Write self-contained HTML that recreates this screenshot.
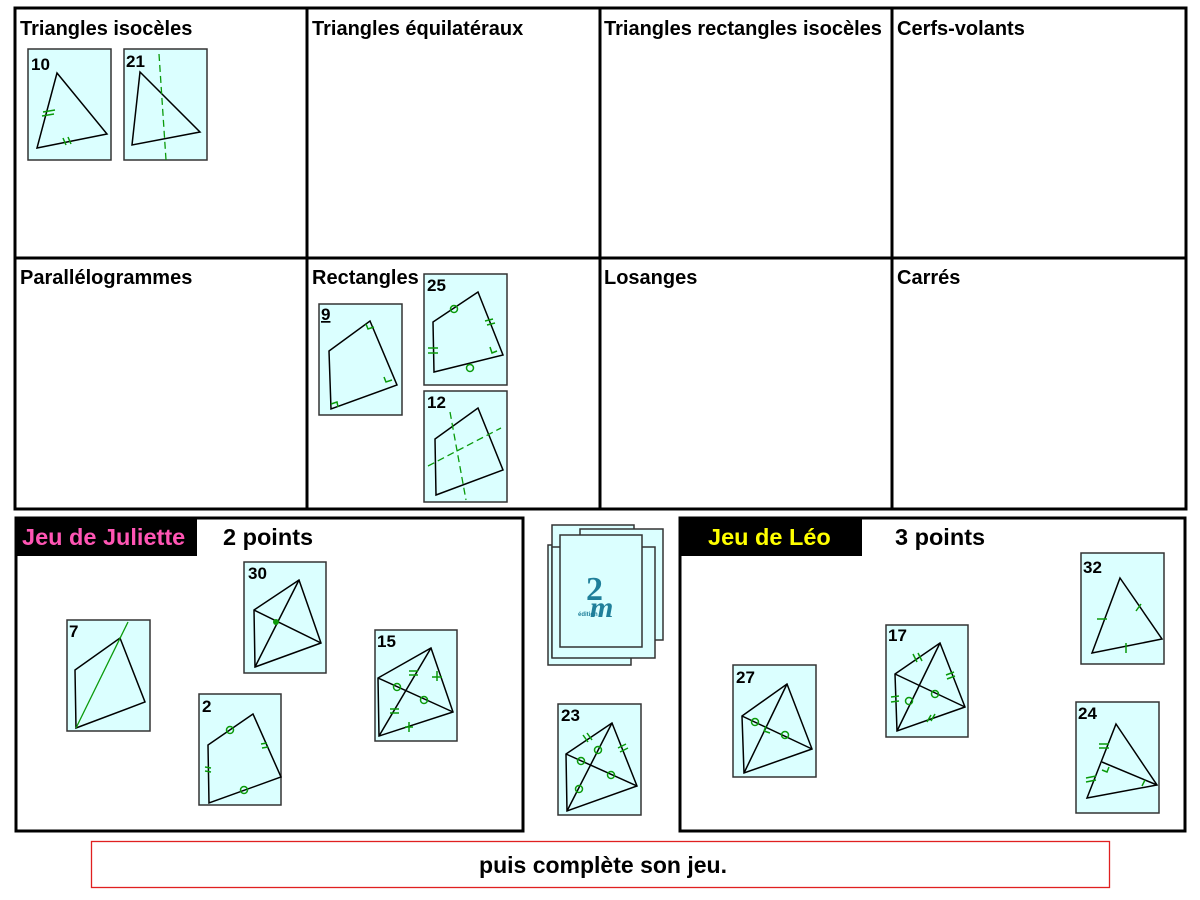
<!DOCTYPE html>
<html><head><meta charset="utf-8"><style>
html,body{margin:0;padding:0;background:#fff}
svg{display:block}
text{font-family:"Liberation Sans",Arial,sans-serif;font-weight:bold}
.c{fill:#dbffff;stroke:#333;stroke-width:1.5}
.s{fill:none;stroke:#000;stroke-width:1.5}
.g{fill:none;stroke:#0a9a0a;stroke-width:1.5}
.d{fill:none;stroke:#0a9a0a;stroke-width:1.3;stroke-dasharray:7,4}
.n{font-size:17px;fill:#000}
.h{font-size:20px;fill:#000}
</style></head><body>
<svg width="1200" height="900" viewBox="0 0 1200 900">
<g fill="none" stroke="#000" stroke-width="3">
<rect x="15" y="8" width="1171" height="501"/>
<line x1="15" y1="258" x2="1186" y2="258"/>
<line x1="307" y1="8" x2="307" y2="509"/>
<line x1="600" y1="8" x2="600" y2="509"/>
<line x1="892" y1="8" x2="892" y2="509"/>
</g>
<text class="h" x="20" y="35">Triangles isocèles</text>
<text class="h" x="312" y="35">Triangles équilatéraux</text>
<text class="h" x="604" y="35">Triangles rectangles isocèles</text>
<text class="h" x="897" y="35">Cerfs-volants</text>
<text class="h" x="20" y="284">Parallélogrammes</text>
<text class="h" x="312" y="284">Rectangles</text>
<text class="h" x="604" y="284">Losanges</text>
<text class="h" x="897" y="284">Carrés</text>

<rect class="c" x="28" y="49" width="83" height="111"/>
<text class="n" x="31" y="70">10</text>
<polygon class="s" points="57,73 107,134 37,148"/>
<path class="g" d="M43,112 l12,-2 M42,116 l12,-2 M63,138 l3,7 M68,137 l3,7"/>
<rect class="c" x="124" y="49" width="83" height="111"/>
<text class="n" x="126" y="67">21</text>
<polygon class="s" points="140,72 200,132 132,145"/>
<line class="d" x1="159" y1="54" x2="166" y2="160"/>

<rect class="c" x="319" y="304" width="83" height="111"/>
<text class="n" x="321" y="320" text-decoration="underline">9</text>
<polygon class="s" points="370,321 397,385 331,409 329,351"/>
<path class="g" d="M366,324 l2,5 l6,-2 M392,380 l-6,2 l-2,-5 M331,404 l6,-2 l1,5"/>
<rect class="c" x="424" y="274" width="83" height="111"/>
<text class="n" x="427" y="291">25</text>
<polygon class="s" points="478,292 503,355 434,372 433,322"/>
<circle class="g" cx="454" cy="309" r="3.5"/><circle class="g" cx="470" cy="368" r="3.5"/>
<path class="g" d="M485,321 l8,-2 M487,325 l8,-2 M428,348 l10,0 M428,353 l10,0 M497,351 l-5,2 l-2,-6"/>
<rect class="c" x="424" y="391" width="83" height="111"/>
<text class="n" x="427" y="408">12</text>
<polygon class="s" points="478,408 503,470 436,495 435,439"/>
<line class="d" x1="450" y1="412" x2="466" y2="500"/>
<line class="d" x1="428" y1="466" x2="501" y2="428"/>

<rect x="16" y="518" width="507" height="313" fill="none" stroke="#000" stroke-width="3"/>
<rect x="15" y="517" width="182" height="39" fill="#000"/>
<text x="22" y="545" style="font-size:23.5px;fill:#ff55b4">Jeu de Juliette</text>
<text x="223" y="545" style="font-size:23.5px">2 points</text>
<rect x="680" y="518" width="505" height="313" fill="none" stroke="#000" stroke-width="3"/>
<rect x="680" y="517" width="182" height="39" fill="#000"/>
<text x="708" y="545" style="font-size:23.5px;fill:#ffff00">Jeu de Léo</text>
<text x="895" y="545" style="font-size:23.5px">3 points</text>

<rect class="c" x="67" y="620" width="83" height="111"/>
<text class="n" x="69" y="637">7</text>
<polygon class="s" points="120,638 145,702 76,728 75,670"/>
<line class="d" x1="128" y1="622" x2="76" y2="728" style="stroke-dasharray:none"/>
<rect class="c" x="244" y="562" width="82" height="111"/>
<text class="n" x="248" y="579">30</text>
<polygon class="s" points="299,580 321,643 255,667 254,610"/>
<path class="s" d="M254,610 L321,643 M299,580 L255,667"/>
<circle cx="276" cy="622" r="3" fill="#0a9a0a"/>
<rect class="c" x="199" y="694" width="82" height="111"/>
<text class="n" x="202" y="712">2</text>
<polygon class="s" points="253,714 281,777 209,803 208,745"/>
<circle class="g" cx="230" cy="730" r="3.5"/><circle class="g" cx="244" cy="790" r="3.5"/>
<path class="g" d="M261,744 l6,-1 M262,748 l6,-1 M205,767 l6,1 M205,771 l6,1"/>
<rect class="c" x="375" y="630" width="82" height="111"/>
<text class="n" x="377" y="647">15</text>
<polygon class="s" points="431,648 453,712 379,736 378,678"/>
<path class="s" d="M378,678 L453,712 M431,648 L379,736"/>
<circle class="g" cx="397" cy="687" r="3.5"/><circle class="g" cx="424" cy="700" r="3.5"/>
<path class="g" d="M409,671 l9,0 M409,675 l9,0 M390,709 l9,0 M390,713 l9,0 M432,677 l10,0 M437,671 l0,10 M405,727 l8,0 M409,722 l0,10"/>

<g class="c">
<rect x="548" y="545" width="83" height="120"/>
<rect x="552" y="525" width="82" height="132"/>
<rect x="580" y="529" width="83" height="111"/>
<rect x="552" y="547" width="103" height="111"/>
<rect x="560" y="535" width="82" height="112"/>
</g>
<text x="586" y="600" style="font-size:34px;fill:#1f7f9a;font-family:'Liberation Serif',serif">2</text>
<text x="590" y="617" style="font-size:30px;fill:#1f7f9a;font-family:'Liberation Serif',serif;font-style:italic">m</text>
<text x="578" y="616" style="font-size:6px;fill:#1f7f9a">édition</text>

<rect class="c" x="558" y="704" width="83" height="111"/>
<text class="n" x="561" y="721">23</text>
<polygon class="s" points="612,723 637,786 567,811 566,754"/>
<path class="s" d="M566,754 L637,786 M612,723 L567,811"/>
<circle class="g" cx="581" cy="761" r="3.5"/><circle class="g" cx="598" cy="750" r="3.5"/><circle class="g" cx="611" cy="775" r="3.5"/><circle class="g" cx="579" cy="789" r="3.5"/>
<path class="g" d="M583,735 l5,7 M587,733 l5,7 M618,748 l8,-4 M620,752 l8,-4"/>
<rect class="c" x="733" y="665" width="83" height="112"/>
<text class="n" x="736" y="683">27</text>
<polygon class="s" points="787,684 812,749 744,773 742,716"/>
<path class="s" d="M742,716 L812,749 M787,684 L744,773"/>
<circle class="g" cx="755" cy="722" r="3.5"/><circle class="g" cx="785" cy="735" r="3.5"/>
<path class="g" d="M764,731 l2,-5 M764,731 l6,2"/>
<rect class="c" x="886" y="625" width="82" height="112"/>
<text class="n" x="888" y="641">17</text>
<polygon class="s" points="940,643 965,707 897,731 895,674"/>
<path class="s" d="M895,674 L965,707 M940,643 L897,731"/>
<circle class="g" cx="909" cy="701" r="3.5"/><circle class="g" cx="935" cy="694" r="3.5"/>
<path class="g" d="M913,654 l4,8 M918,653 l4,8 M946,675 l8,-3 M947,679 l8,-3 M891,697 l8,-1 M891,702 l8,-1 M927,722 l4,-7 M931,721 l4,-7"/>
<rect class="c" x="1081" y="553" width="83" height="111"/>
<text class="n" x="1083" y="573">32</text>
<polygon class="s" points="1120,578 1162,639 1092,653"/>
<path class="g" d="M1097,619 l10,0 M1136,611 l5,-7 M1126,643 l0,10"/>
<rect class="c" x="1076" y="702" width="83" height="111"/>
<text class="n" x="1078" y="719">24</text>
<polygon class="s" points="1116,724 1157,785 1087,798"/>
<path class="s" d="M1102,762 L1157,785"/>
<path class="g" d="M1099,744 l10,0 M1099,748 l10,0 M1086,778 l10,-2 M1086,782 l10,-2 M1102,770 l5,2 l2,-5 M1142,786 l3,-6"/>

<rect x="91.5" y="841.5" width="1018" height="46" fill="none" stroke="#e02020" stroke-width="1.3"/>
<text x="603" y="873" text-anchor="middle" style="font-size:23px">puis complète son jeu.</text>
</svg>
</body></html>
